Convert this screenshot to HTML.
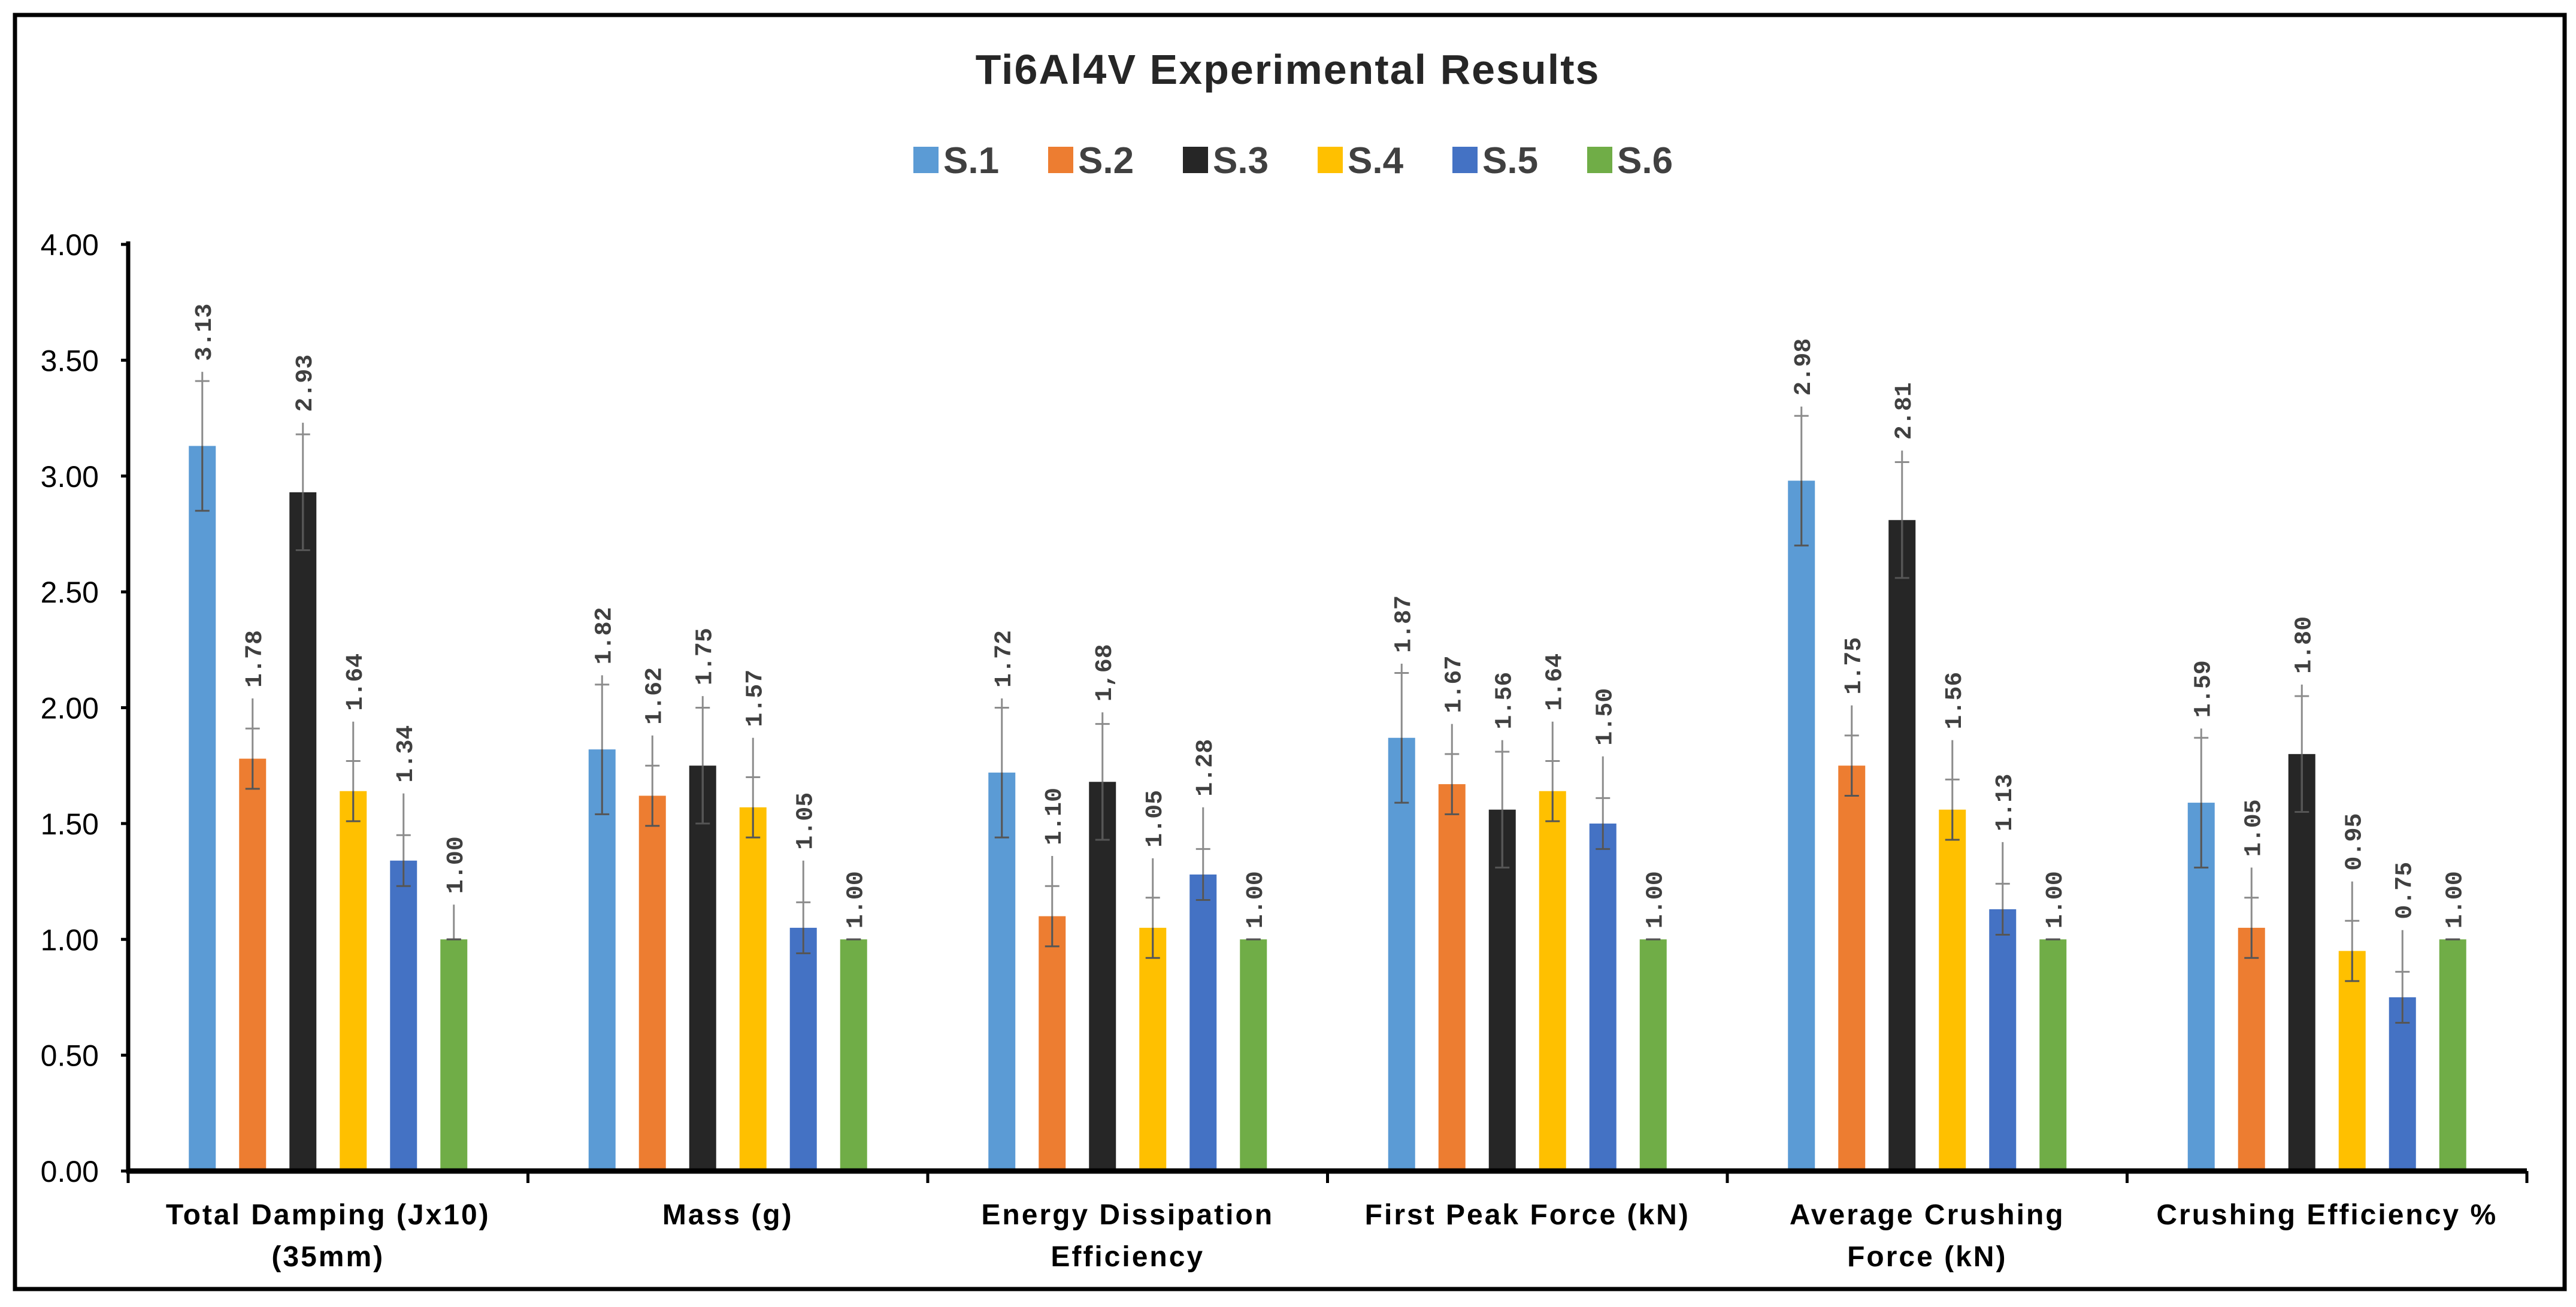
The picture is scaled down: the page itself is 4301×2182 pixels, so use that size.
<!DOCTYPE html>
<html><head><meta charset="utf-8"><style>
html,body{margin:0;padding:0;background:#fff;}
svg{display:block;}
</style></head><body>
<svg id="chart" xmlns="http://www.w3.org/2000/svg" width="4301" height="2182" viewBox="0 0 4301 2182">
<rect x="25" y="25" width="4257" height="2127" fill="#fff" stroke="#000" stroke-width="7"/>
<text x="2150" y="140" text-anchor="middle" font-family="'Liberation Sans', sans-serif" font-weight="bold" font-size="70" letter-spacing="2" fill="#262626">Ti6Al4V Experimental Results</text>
<g id="legend"></g>
<g id="plot"></g>
</svg>
<script>
const categories = [["Total Damping (Jx10)","(35mm)"],["Mass (g)"],["Energy Dissipation","Efficiency"],["First Peak Force (kN)"],["Average Crushing","Force (kN)"],["Crushing Efficiency %"]];
const seriesNames = ["S.1","S.2","S.3","S.4","S.5","S.6"];
const s1 = [3.13,1.82,1.72,1.87,2.98,1.59];
const s2 = [1.78,1.62,1.10,1.67,1.75,1.05];
const s3 = [2.93,1.75,1.68,1.56,2.81,1.80];
const s4 = [1.64,1.57,1.05,1.64,1.56,0.95];
const s5 = [1.34,1.05,1.28,1.50,1.13,0.75];
const s6 = [1.00,1.00,1.00,1.00,1.00,1.00];
const valueLabels = [["3.13","1.82","1.72","1.87","2.98","1.59"],["1.78","1.62","1.10","1.67","1.75","1.05"],["2.93","1.75","1,68","1.56","2.81","1.80"],["1.64","1.57","1.05","1.64","1.56","0.95"],["1.34","1.05","1.28","1.50","1.13","0.75"],["1.00","1.00","1.00","1.00","1.00","1.00"]];
const seriesErr = [0.28,0.13,0.25,0.13,0.11,0];
const seriesWhisker = [0.04,0.13,0.05,0.17,0.18,0];
const yTicks = [0,0.5,1,1.5,2,2.5,3,3.5,4];
const series = [s1,s2,s3,s4,s5,s6];
const colors = ["#5B9BD5","#ED7D31","#262626","#FFC000","#4472C4","#70AD47"];

const NS="http://www.w3.org/2000/svg";
const X0=214, X1=4219, Y0=1955, YTOP=408, YMAX=4;
const catW=(X1-X0)/categories.length;
const yS=v=>Y0-(v/YMAX)*(Y0-YTOP);
const xCat=i=>X0+catW*(i+0.5);
const barW=45, barStep=84;
const xBar=(i,s)=>xCat(i)+(s-(series.length-1)/2)*barStep;
function mk(tag,attrs,parent){const e=document.createElementNS(NS,tag);for(const k in attrs)e.setAttribute(k,attrs[k]);parent.appendChild(e);return e;}
const plot=document.getElementById('plot');
const legend=document.getElementById('legend');

yTicks.forEach(t=>{
  const y=yS(t);
  const tk=mk('line',{x1:X0-12,x2:X0,y1:y,y2:y,stroke:'#000','stroke-width':5},plot);
  
  
  const tx=mk('text',{x:165,y:y+18,'text-anchor':'end','font-family':"'Liberation Sans', sans-serif",'font-size':50,fill:'#000'},plot);
  tx.textContent=t.toFixed(2);
  
  
});
series.forEach((arr,s)=>{
  arr.forEach((v,i)=>{
    const cx=xBar(i,s), y=yS(v);
    const r=mk('rect',{x:cx-barW/2,y:y,width:barW,height:Y0-y,fill:colors[s]},plot);
    
    
    const e=seriesErr[s];
    const yHi=yS(v+e), yLo=yS(Math.max(0,v-e));
    const extV=(s===5&&i===0)?0.15:seriesWhisker[s];
    const yTop=yS(v+e+extV);
    if(yTop<y){
      const l=mk('line',{x1:cx,x2:cx,y1:yTop,y2:yLo,stroke:'#8c8c8c','stroke-width':3},plot);
      
      
      const l2=mk('line',{x1:cx,x2:cx,y1:y,y2:yLo,stroke:'#555','stroke-width':3},plot);
      
      
    }
    [yHi,yLo].forEach(yy=>{
      const c=mk('line',{x1:cx-12,x2:cx+12,y1:yy,y2:yy,stroke:yy>=y?'#555':'#8c8c8c','stroke-width':3},plot);
      
      
    });
    const ly=Math.min(yTop,yHi)-18;
    const t=mk('text',{x:0,y:0,transform:`translate(${cx+14},${ly}) rotate(-90)`,'font-family':"'Liberation Mono', monospace",'font-weight':'bold','font-size':40,fill:'#404040'},plot);
    t.textContent=valueLabels[s][i];
    
    
  });
});
const ya=mk('line',{x1:X0,x2:X0,y1:YTOP-5,y2:Y0+4,stroke:'#000','stroke-width':7},plot);


const xa=mk('line',{x1:X0-3,x2:X1,y1:Y0,y2:Y0,stroke:'#000','stroke-width':9},plot);


for(let i=0;i<=categories.length;i++){
  const x=X0+catW*i;
  const k=mk('line',{x1:x,x2:x,y1:Y0,y2:Y0+20,stroke:'#000','stroke-width':5},plot);
  
  
}
categories.forEach((lines,i)=>{
  lines.forEach((ln,j)=>{
    const t=mk('text',{x:xCat(i),y:2044+j*70,'text-anchor':'middle','font-family':"'Liberation Sans', sans-serif",'font-weight':'bold','font-size':48,'letter-spacing':3,fill:'#000'},plot);
    t.textContent=ln;
    
    
  });
});
const LX=1525, LStep=225, LY=267;
seriesNames.forEach((n,s)=>{
  const x=LX+s*LStep;
  const r=mk('rect',{x:x,y:LY-22,width:42,height:44,fill:colors[s]},legend);
  
  
  const t=mk('text',{x:x+50,y:LY+22,'font-family':"'Liberation Sans', sans-serif",'font-weight':'bold','font-size':62,fill:'#404040'},legend);
  t.textContent=n;
  
  
});
</script>
</body></html>
